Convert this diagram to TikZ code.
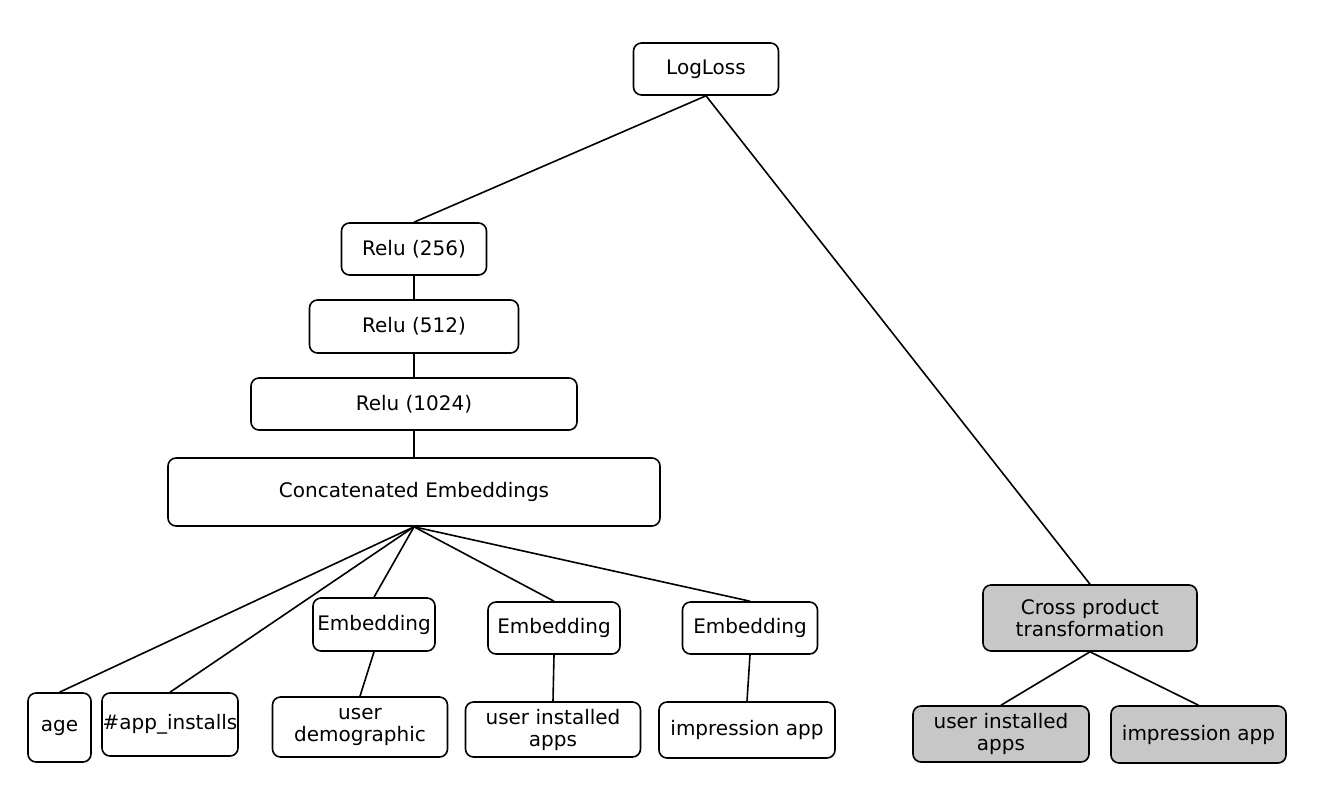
\documentclass[tikz,border=0pt]{standalone}
\usepackage{fontspec}
\setmainfont{DejaVu Sans}
\tikzset{
  box/.style={draw, rounded corners=4pt, line width=0.8pt, inner sep=0pt, align=center,
    font=\fontsize{10}{11}\selectfont},
  graybox/.style={box, fill=black!22},
}

\begin{document}
\begin{tikzpicture}[x=0.5pt, y=-0.5pt, line width=0.8pt]
\useasboundingbox (0,0) rectangle (1344,810);
% deep part
\node[box, minimum width=72.5pt, minimum height=26pt] (logloss) at (706,69) {LogLoss};
\node[box, minimum width=72.5pt, minimum height=26pt] (relu256) at (414,249) {Relu (256)};
\node[box, minimum width=104.5pt, minimum height=26.5pt] (relu512) at (414,326.5) {Relu (512)};
\node[box, minimum width=163pt, minimum height=26pt] (relu1024) at (414,404) {Relu (1024)};
\node[box, minimum width=246pt, minimum height=34pt] (concat) at (414,492) {Concatenated Embeddings};
\node[box, minimum width=61pt, minimum height=26.5pt] (emb1) at (374,624.5) {Embedding};
\node[box, minimum width=66pt, minimum height=26pt] (emb2) at (554,628) {Embedding};
\node[box, minimum width=67.5pt, minimum height=26pt] (emb3) at (750,628) {Embedding};
\node[box, minimum width=31.5pt, minimum height=34.5pt] (age) at (59.5,727.5) {age};
\node[box, minimum width=68pt, minimum height=31.5pt] (appinst) at (170,724.5) {\#app\_installs};
\node[box, minimum width=87.5pt, minimum height=30pt] (userdemo) at (360,727) {user\\demographic};
\node[box, minimum width=87.5pt, minimum height=27.5pt] (userapps) at (553,729.5) {user installed\\apps};
\node[box, minimum width=88pt, minimum height=28pt] (imprapp) at (747,730) {impression app};
% wide part
\node[graybox, minimum width=107pt, minimum height=33pt] (cross) at (1090,618) {Cross product\\transformation};
\node[graybox, minimum width=88pt, minimum height=28pt] (xapps) at (1001,734) {user installed\\apps};
\node[graybox, minimum width=87.5pt, minimum height=28.5pt] (ximpr) at (1198.5,734.5) {impression app};

\draw (logloss.south) -- (relu256.north);
\draw (logloss.south) -- (cross.north);
\draw (relu256) -- (relu512) -- (relu1024) -- (concat);
\foreach \n in {age, appinst, emb1, emb2, emb3}
  \draw (concat.south) -- (\n.north);
\draw (emb1.south) -- (userdemo.north);
\draw (emb2.south) -- (userapps.north);
\draw (emb3.south) -- (imprapp.north);
\draw (cross.south) -- (xapps.north);
\draw (cross.south) -- (ximpr.north);
\end{tikzpicture}
\end{document}
